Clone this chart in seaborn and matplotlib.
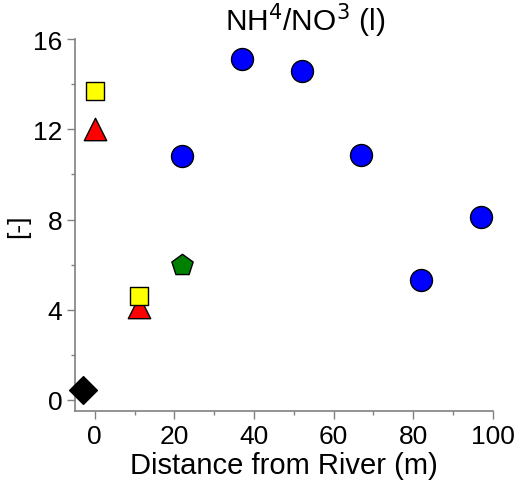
import matplotlib
matplotlib.use("Agg")
import matplotlib.pyplot as plt
import seaborn as sns
import pandas as pd
from matplotlib.ticker import MultipleLocator

sns.set_theme(style="white")
plt.rcParams['font.family'] = ['Liberation Sans', 'DejaVu Sans']
plt.rcParams['text.color'] = 'black'
plt.rcParams['axes.labelcolor'] = 'black'

# Data
circle_x = [22, 37, 52, 67, 82, 97]
circle_y = [10.8, 15.1, 14.6, 10.85, 5.3, 8.1]
square_x = [0, 11]
square_y = [13.7, 4.6]
triangle_x = [0, 11]
triangle_y = [12.0, 4.1]
pentagon_x = [22]
pentagon_y = [6.0]
diamond_x = [-3]
diamond_y = [0.45]

groups = [
    (diamond_x, diamond_y, "D", "black", 200),
    (triangle_x, triangle_y, "^", "red", 260),
    (square_x, square_y, "s", "yellow", 170),
    (pentagon_x, pentagon_y, "p", "green", 260),
    (circle_x, circle_y, "o", "blue", 250),
]

fig = plt.figure(figsize=(5.31, 4.89), dpi=100)
ax = fig.add_axes([0.141, 0.157, 0.787, 0.761])

for xs, ys, m, c, s in groups:
    df = pd.DataFrame({"x": xs, "y": ys})
    sns.scatterplot(data=df, x="x", y="y", marker=m, color=c, s=s,
                    edgecolor="black", linewidth=1, ax=ax, zorder=3, clip_on=False)

ax.set_xlim(-5, 100)
ax.set_ylim(-0.5, 16)
ax.xaxis.set_major_locator(MultipleLocator(20))
ax.xaxis.set_minor_locator(MultipleLocator(10))
ax.yaxis.set_major_locator(MultipleLocator(4))
ax.yaxis.set_minor_locator(MultipleLocator(2))

for side in ["top", "right"]:
    ax.spines[side].set_visible(False)
for side in ["left", "bottom"]:
    ax.spines[side].set_color("#808080")
    ax.spines[side].set_linewidth(1.2)

ax.tick_params(axis="both", which="major", direction="out", length=6, width=1,
               color="#808080", labelsize=19, labelcolor="black", left=True, bottom=True, pad=3)
ax.tick_params(axis="both", which="minor", direction="out", length=3, width=1,
               color="#808080", left=True, bottom=True)

ax.set_xlabel("Distance from River (m)", fontsize=21, labelpad=2, color="black")
ax.set_ylabel("[-]", fontsize=19, labelpad=2, color="black")
ax.set_title("NH$^4$/NO$^3$ (l)", fontsize=21.5, pad=1, x=0.55, color="black")

fig.savefig("out.png", dpi=100)
